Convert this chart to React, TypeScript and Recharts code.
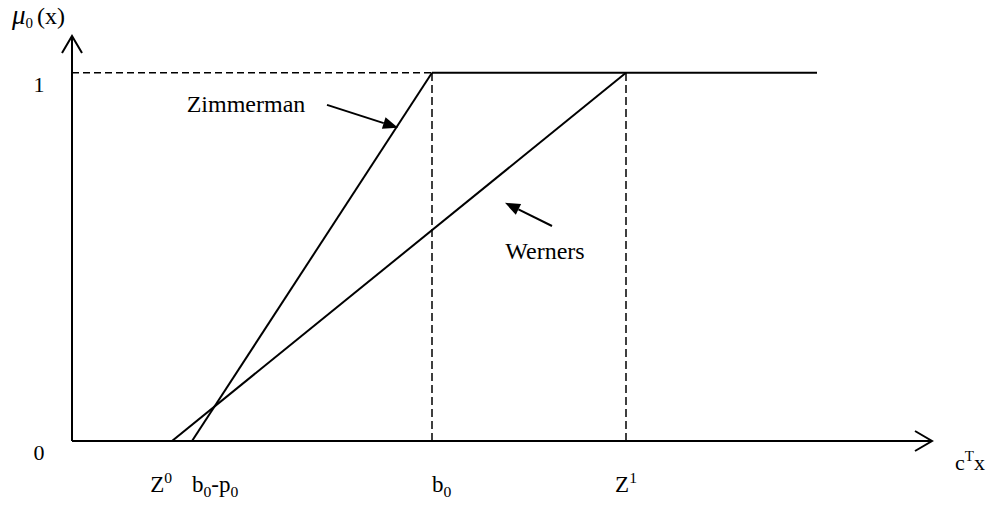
import React from 'react';
import { LineChart, Line, XAxis, YAxis, ReferenceLine, ReferenceDot } from 'recharts';

// membership function endpoints: (objective value, membership degree)
const zimmerman = [{ x: 6, y: 0 }, { x: 18, y: 1 }];
const werners = [{ x: 5, y: 0 }, { x: 27.7, y: 1 }];
const plateau = [{ x: 18, y: 1 }, { x: 37.25, y: 1 }];

const xTicks = [5, 6, 18, 27.7];
const xTickLabels = ['Z^0', 'b_0-p_0', 'b_0', 'Z^1'];
const yTicks = [0, 1];

const X_MAX = 43;
const Y_MAX = 1.1;
const FONT = '"Liberation Serif", "Times New Roman", serif';
const FS = 24;

const tickAnchor: Record<string, 'start' | 'middle' | 'end'> = {
  'Z^0': 'end',
  'b_0-p_0': 'start',
  'b_0': 'start',
  'Z^1': 'middle',
};

// renders "Z^0" / "b_0-p_0" style strings with sup/sub tspans
const richText = (s: string, size: number) => {
  const parts = s.split(/([\^_]\w)/).filter(Boolean);
  const out: React.ReactNode[] = [];
  let shift = 0;
  parts.forEach((p, i) => {
    if (p[0] === '^' || p[0] === '_') {
      const d = p[0] === '^' ? -size * 0.4 : size * 0.2;
      out.push(<tspan key={i} dy={d - shift} fontSize={size * 0.68}>{p.slice(1)}</tspan>);
      shift = d;
    } else {
      out.push(<tspan key={i} dy={-shift} fontSize={size}>{p}</tspan>);
      shift = 0;
    }
  });
  return out;
};

const XTick = (props: any) => {
  const { x, y, payload } = props;
  const label = xTickLabels[xTicks.indexOf(payload.value)];
  return (
    <text x={x} y={y + 51} textAnchor={tickAnchor[label]} fontFamily={FONT} fontSize={23} fill="#000">
      {richText(label, 23)}
    </text>
  );
};

const YTick = (props: any) => {
  const { y, payload } = props;
  return (
    <text x={39} y={y + 19} textAnchor="middle" fontFamily={FONT} fontSize={22} fill="#000">
      {payload.value}
    </text>
  );
};

const axisArrow = (dir: 'up' | 'right') => (p: any) => {
  const { cx, cy } = p;
  const d = dir === 'up'
    ? `M${cx - 10},${cy + 17} L${cx},${cy} L${cx + 10},${cy + 17}`
    : `M${cx - 17},${cy - 10} L${cx},${cy} L${cx - 17},${cy + 10}`;
  return <path d={d} stroke="#000" strokeWidth={2} fill="none" />;
};

const pointer = (p: any) => {
  const { x1, y1, x2, y2 } = p;
  const a = Math.atan2(y2 - y1, x2 - x1);
  const len = 15;
  const w = 6;
  const bx = x2 - len * Math.cos(a);
  const by = y2 - len * Math.sin(a);
  const nx = -Math.sin(a) * w;
  const ny = Math.cos(a) * w;
  return (
    <g>
      <line x1={x1} y1={y1} x2={bx} y2={by} stroke="#000" strokeWidth={2} />
      <path d={`M${x2},${y2} L${bx + nx},${by + ny} L${bx - nx},${by - ny} Z`} fill="#000" />
    </g>
  );
};

const note = (text: string) => (p: any) => (
  <text x={p.cx} y={p.cy} textAnchor="middle" dominantBaseline="central" fontFamily={FONT} fontSize={FS} fill="#000">
    {text}
  </text>
);

const YLabel = () => (
  <text x={12} y={24} fontFamily={FONT} fill="#000">
    <tspan fontSize={27} fontStyle="italic">μ</tspan>
    <tspan fontSize={15} dy={4}>0</tspan>
    <tspan fontSize={24} dy={-4} dx={4}>(x)</tspan>
  </text>
);

const XLabel = () => (
  <text x={955} y={470} fontFamily={FONT} fill="#000" fontSize={22}>
    {richText('c^Tx', 22)}
  </text>
);

export default function App() {
  return (
    <div style={{ position: 'absolute', left: 0, top: 0, background: '#fff' }}>
      <LineChart
        width={1001}
        height={507}
        margin={{ top: 36, right: 69, bottom: 65, left: 71 }}
      >
        <XAxis
          type="number"
          dataKey="x"
          domain={[0, X_MAX]}
          ticks={xTicks}
          tick={<XTick />}
          tickLine={false}
          tickSize={0}
          tickMargin={0}
          axisLine={{ stroke: '#000', strokeWidth: 2 }}
          height={1}
          allowDataOverflow
        />
        <YAxis
          type="number"
          dataKey="y"
          domain={[0, Y_MAX]}
          ticks={yTicks}
          tick={<YTick />}
          tickLine={false}
          tickSize={0}
          tickMargin={0}
          axisLine={{ stroke: '#000', strokeWidth: 2 }}
          width={1}
          allowDataOverflow
        />

        <ReferenceLine segment={[{ x: 0, y: 1 }, { x: 18, y: 1 }]} stroke="#000" strokeWidth={1.5} strokeDasharray="7 4" ifOverflow="visible" />
        <ReferenceLine segment={[{ x: 18, y: 0 }, { x: 18, y: 1 }]} stroke="#000" strokeWidth={1.5} strokeDasharray="8 4" ifOverflow="visible" />
        <ReferenceLine segment={[{ x: 27.7, y: 0 }, { x: 27.7, y: 1 }]} stroke="#000" strokeWidth={1.5} strokeDasharray="8 4" ifOverflow="visible" />

        <Line data={zimmerman} dataKey="y" stroke="#000" strokeWidth={2} dot={false} isAnimationActive={false} />
        <Line data={werners} dataKey="y" stroke="#000" strokeWidth={2} dot={false} isAnimationActive={false} />
        <Line data={plateau} dataKey="y" stroke="#000" strokeWidth={2} dot={false} isAnimationActive={false} />

        <ReferenceDot x={X_MAX} y={0} r={0} shape={axisArrow('right')} ifOverflow="visible" />
        <ReferenceDot x={0} y={Y_MAX} r={0} shape={axisArrow('up')} ifOverflow="visible" />

        <ReferenceLine segment={[{ x: 12.75, y: 0.913 }, { x: 16.3, y: 0.851 }]} shape={pointer} ifOverflow="visible" />
        <ReferenceLine segment={[{ x: 24, y: 0.584 }, { x: 21.65, y: 0.647 }]} shape={pointer} ifOverflow="visible" />
        <ReferenceDot x={8.7} y={0.916} r={0} shape={note('Zimmerman')} ifOverflow="visible" />
        <ReferenceDot x={23.65} y={0.516} r={0} shape={note('Werners')} ifOverflow="visible" />

        <YLabel />
        <XLabel />
      </LineChart>
    </div>
  );
}
